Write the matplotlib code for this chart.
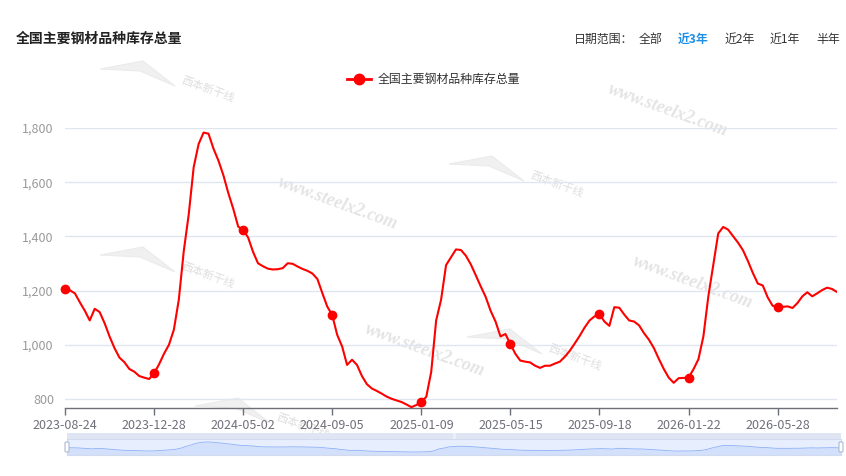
import matplotlib
matplotlib.use("Agg")
import matplotlib.pyplot as plt
from matplotlib.lines import Line2D
from matplotlib.patches import Rectangle, FancyBboxPatch, Polygon
from matplotlib.ticker import FuncFormatter
import numpy as np

plt.rcParams['font.family'] = ['Noto Sans CJK SC', 'DejaVu Sans']

title = "全国主要钢材品种库存总量"
series_name = "全国主要钢材品种库存总量"
tick_labels = ["2023-08-24", "2023-12-28", "2024-05-02", "2024-09-05", "2025-01-09",
               "2025-05-15", "2025-09-18", "2026-01-22", "2026-05-28"]
tick_step = 18
y_ticks = [800, 1000, 1200, 1400, 1600, 1800]
range_buttons = ["日期范围：", "全部", "近3年", "近2年", "近1年", "半年"]

values = [
    1207, 1201, 1190, 1157, 1126, 1090, 1133, 1121, 1080, 1031,
    988, 953, 936, 911, 901, 885, 879, 874, 895, 928,
    967, 1000, 1056, 1167, 1346, 1481, 1655, 1741, 1783, 1779,
    1724, 1680, 1626, 1560, 1502, 1436, 1424, 1396, 1343, 1301,
    1290, 1281, 1278, 1279, 1283, 1301, 1299, 1289, 1280, 1273,
    1263, 1243, 1191, 1141, 1110, 1037, 994, 926, 945, 926,
    885, 855, 839, 830, 820, 809, 801, 795, 789, 780,
    770, 778, 790, 808, 900, 1090, 1167, 1294, 1323, 1352,
    1350, 1329, 1297, 1257, 1216, 1177, 1126, 1086, 1031, 1040,
    1003, 967, 942, 938, 935, 923, 915, 923, 923, 931,
    938, 956, 978, 1005, 1033, 1064, 1090, 1105, 1113, 1086,
    1070, 1139, 1137, 1112, 1090, 1086, 1072, 1043, 1019, 988,
    948, 911, 879, 860, 877, 878, 879, 910, 947, 1031,
    1179, 1296, 1411, 1435, 1425, 1401, 1377, 1349, 1309, 1265,
    1226, 1219, 1175, 1144, 1139, 1140, 1142, 1136, 1154, 1179,
    1194, 1179, 1190, 1202, 1211, 1206, 1195,
]

W, H = 846, 476
def fx(px): return px / W
def fy(py): return 1 - py / H

fig = plt.figure(figsize=(W / 100, H / 100), dpi=100)
fig.patch.set_facecolor('white')

# main axes
ax = fig.add_axes([fx(65), fy(408), fx(837) - fx(65), fy(128) - fy(408)])
ax.set_facecolor('none')
x = np.arange(len(values))
ax.plot(x, values, color='#ff0000', lw=1.5, zorder=3, solid_joinstyle='round')
ax.plot(x[::tick_step], np.array(values)[::tick_step], 'o', color='#ff0000', ms=6,
        zorder=4, clip_on=False)
ax.set_xlim(0, len(values) - 1)
ax.set_ylim(767, 1800)
ax.set_yticks(y_ticks)
ax.yaxis.set_major_formatter(FuncFormatter(lambda v, p: f"{int(v):,}"))
ax.set_xticks(x[::tick_step])
ax.set_xticklabels(tick_labels)
ax.grid(axis='y', color='#E0E6F1', lw=1)
ax.set_axisbelow(True)
for s in ['top', 'right', 'left']:
    ax.spines[s].set_visible(False)
ax.spines['bottom'].set_color('#6E7079')
ax.spines['bottom'].set_linewidth(1)
ax.tick_params(axis='y', length=0, pad=8, labelsize=9, labelcolor='#9a9a9a')
ax.tick_params(axis='x', length=5, width=1, color='#6E7079', pad=3, labelsize=9, labelcolor='#6E7079')

# title and range buttons
fig.text(fx(16), fy(39), title, fontsize=10, fontweight='bold', color='#222222', va='center', ha='left')
btn_x = [574, 639, 678, 725, 770, 816]
for lbl, bx in zip(range_buttons, btn_x):
    active = lbl == "近3年"
    fig.text(fx(bx), fy(39), lbl, fontsize=8.6, va='center', ha='left',
             color='#1e8fe6' if active else '#333333',
             fontweight='bold' if active else 'normal')

# legend
fig.add_artist(Line2D([fx(347), fx(371)], [fy(79), fy(79)], color='#ff0000', lw=2))
fig.add_artist(Line2D([fx(359)], [fy(79)], marker='o', color='#ff0000', ms=7.5))
fig.text(fx(378), fy(79), series_name, fontsize=8.6, color='#333333', va='center', ha='left')

# watermarks
wm_color = '#e4e4e4'
for cx, cy in [(668, 110), (338, 203), (425, 350), (693, 282)]:
    fig.text(fx(cx), fy(cy), "www.steelx2.com", fontsize=13, family='Liberation Serif',
             style='italic', fontweight='bold', color=wm_color, rotation=-20,
             ha='center', va='center', zorder=-1)
for cx, cy in [(208, 90), (208, 276), (557, 185), (575, 358), (303, 427)]:
    fig.text(fx(cx), fy(cy), "西本新干线", fontsize=8, color='#dedede', rotation=-20,
             ha='center', va='center', zorder=-1)
    pts = [(cx - 108, cy - 21), (cx - 65, cy - 29), (cx - 33, cy - 4), (cx - 68, cy - 19)]
    fig.add_artist(Polygon([(fx(a), fy(b)) for a, b in pts], closed=True,
                           facecolor='#f0f0f0', edgecolor='#ebebeb', lw=0.8, zorder=-1))

# data zoom slider
sl_l, sl_r = 67, 841
fig.add_artist(Rectangle((fx(sl_l), fy(439)), fx(sl_r) - fx(sl_l), fy(433) - fy(439),
                         facecolor='#dfe5f3', edgecolor='none', zorder=1))
sax = fig.add_axes([fx(sl_l), fy(455), fx(sl_r) - fx(sl_l), fy(439) - fy(455)])
sax.set_facecolor('#e7efff')
vmin, vmax = min(values), max(values)
pad = (vmax - vmin) * 0.3
sax.fill_between(x, vmin - pad, values, color='#d3e0fb', lw=0)
sax.plot(x, values, color='#8fb0f7', lw=0.6)
sax.set_xlim(0, len(values) - 1)
sax.set_ylim(vmin - pad, vmax + pad)
sax.set_xticks([])
sax.set_yticks([])
for s in sax.spines.values():
    s.set_color('#d2dbee')
    s.set_linewidth(0.8)
for hx in [sl_l, sl_r]:
    fig.add_artist(FancyBboxPatch((fx(hx - 2), fy(452)), fx(4) - fx(0), fy(442) - fy(452),
                                  boxstyle='round,pad=0,rounding_size=0.002',
                                  facecolor='white', edgecolor='#ACB8D1', lw=0.8, zorder=5))
fig.text(fx(455), fy(436), "|||", fontsize=4, color='#ffffff', ha='center', va='center')

fig.savefig('out.png', dpi=100, facecolor='white')
